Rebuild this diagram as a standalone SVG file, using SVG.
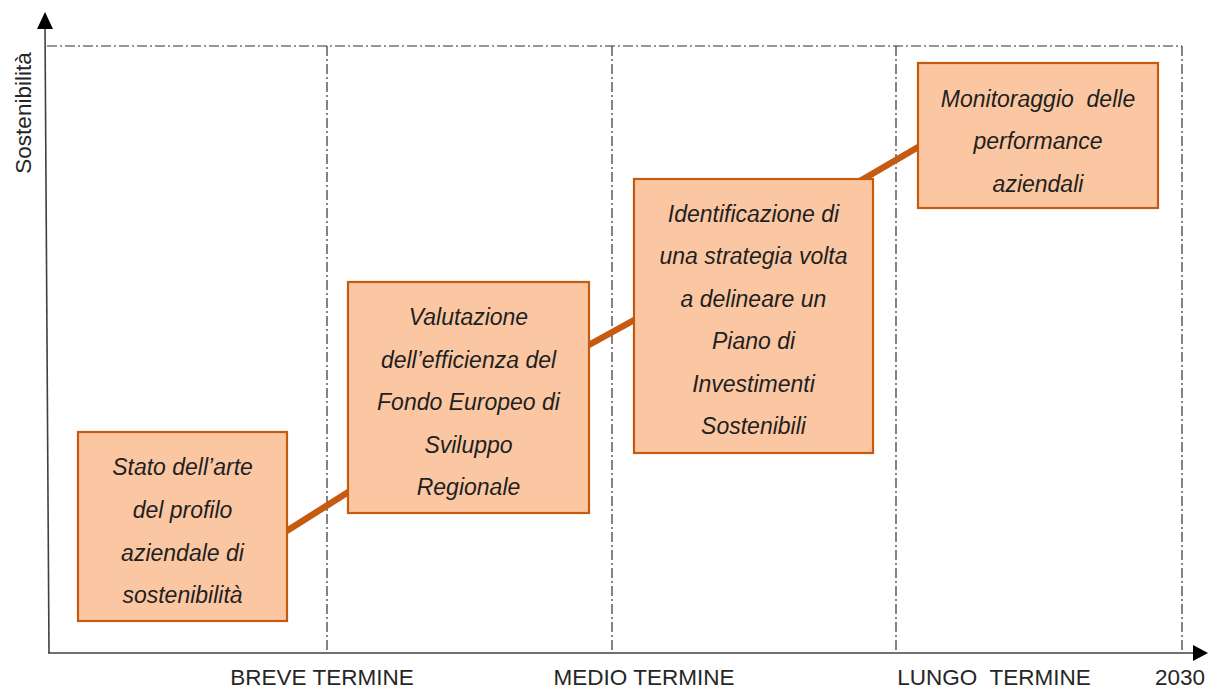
<svg xmlns="http://www.w3.org/2000/svg" width="1209" height="689" viewBox="0 0 1209 689">
<style>
.grid{fill:none;stroke:#333;stroke-width:1.2;stroke-dasharray:10 3 2 3}
.axis{fill:none;stroke:#404040;stroke-width:1.6}
.conn{fill:none;stroke:#C55A11;stroke-width:6.5}
.box{fill:#FBC7A3;stroke:#C55A11;stroke-width:2.2}
.bt{font-family:"Liberation Sans",Arial,sans-serif;font-style:italic;font-size:23px;fill:#1f1f1f;text-anchor:middle}
.lab{font-family:"Liberation Sans",Arial,sans-serif;font-size:22.5px;fill:#262626;text-anchor:middle}
</style>
<rect width="1209" height="689" fill="#fff"/>
<g id="grid">
<line class="grid" x1="47" y1="46" x2="1182" y2="46"/>
<line class="grid" x1="327" y1="46" x2="327" y2="653"/>
<line class="grid" x1="612" y1="46" x2="612" y2="653"/>
<line class="grid" x1="896" y1="46" x2="896" y2="653"/>
<line class="grid" x1="1182" y1="46" x2="1182" y2="653"/>
</g>
<g id="axes">
<line class="axis" x1="45" y1="26" x2="49" y2="653"/>
<polygon points="45,12 37,29 53,29" fill="#000"/>
<line class="axis" x1="48" y1="653" x2="1195" y2="653"/>
<polygon points="1208,653 1193,645 1193,661" fill="#000"/>
<text class="lab" transform="translate(31,113) rotate(-90)">Sostenibilità</text>
<text class="lab" x="322" y="685">BREVE TERMINE</text>
<text class="lab" x="644" y="685">MEDIO TERMINE</text>
<text class="lab" x="994" y="685" xml:space="preserve">LUNGO  TERMINE</text>
<text class="lab" x="1180" y="685">2030</text>
</g>
<g id="connectors">
<line class="conn" x1="285" y1="532" x2="350" y2="491"/>
<line class="conn" x1="587" y1="346" x2="636" y2="319"/>
<line class="conn" x1="860" y1="181" x2="920" y2="146"/>
</g>
<g id="node1">
<rect class="box" x="78" y="432" width="209" height="189"/>
<text class="bt" x="182.5" y="475">Stato dell’arte</text>
<text class="bt" x="182.5" y="518">del profilo</text>
<text class="bt" x="182.5" y="561">aziendale di</text>
<text class="bt" x="182.5" y="603">sostenibilità</text>
</g>
<g id="node2">
<rect class="box" x="348" y="282" width="241" height="231"/>
<text class="bt" x="468.5" y="325">Valutazione</text>
<text class="bt" x="468.5" y="367.5">dell’efficienza del</text>
<text class="bt" x="468.5" y="410">Fondo Europeo di</text>
<text class="bt" x="468.5" y="452.5">Sviluppo</text>
<text class="bt" x="468.5" y="495">Regionale</text>
</g>
<g id="node3">
<rect class="box" x="634" y="179" width="239" height="274"/>
<text class="bt" x="753.5" y="222">Identificazione di</text>
<text class="bt" x="753.5" y="264">una strategia volta</text>
<text class="bt" x="753.5" y="307">a delineare un</text>
<text class="bt" x="753.5" y="349">Piano di</text>
<text class="bt" x="753.5" y="392">Investimenti</text>
<text class="bt" x="753.5" y="434">Sostenibili</text>
</g>
<g id="node4">
<rect class="box" x="918" y="63" width="240" height="145"/>
<text class="bt" x="1038" y="107" xml:space="preserve">Monitoraggio  delle</text>
<text class="bt" x="1038" y="149">performance</text>
<text class="bt" x="1038" y="192">aziendali</text>
</g>
</svg>
